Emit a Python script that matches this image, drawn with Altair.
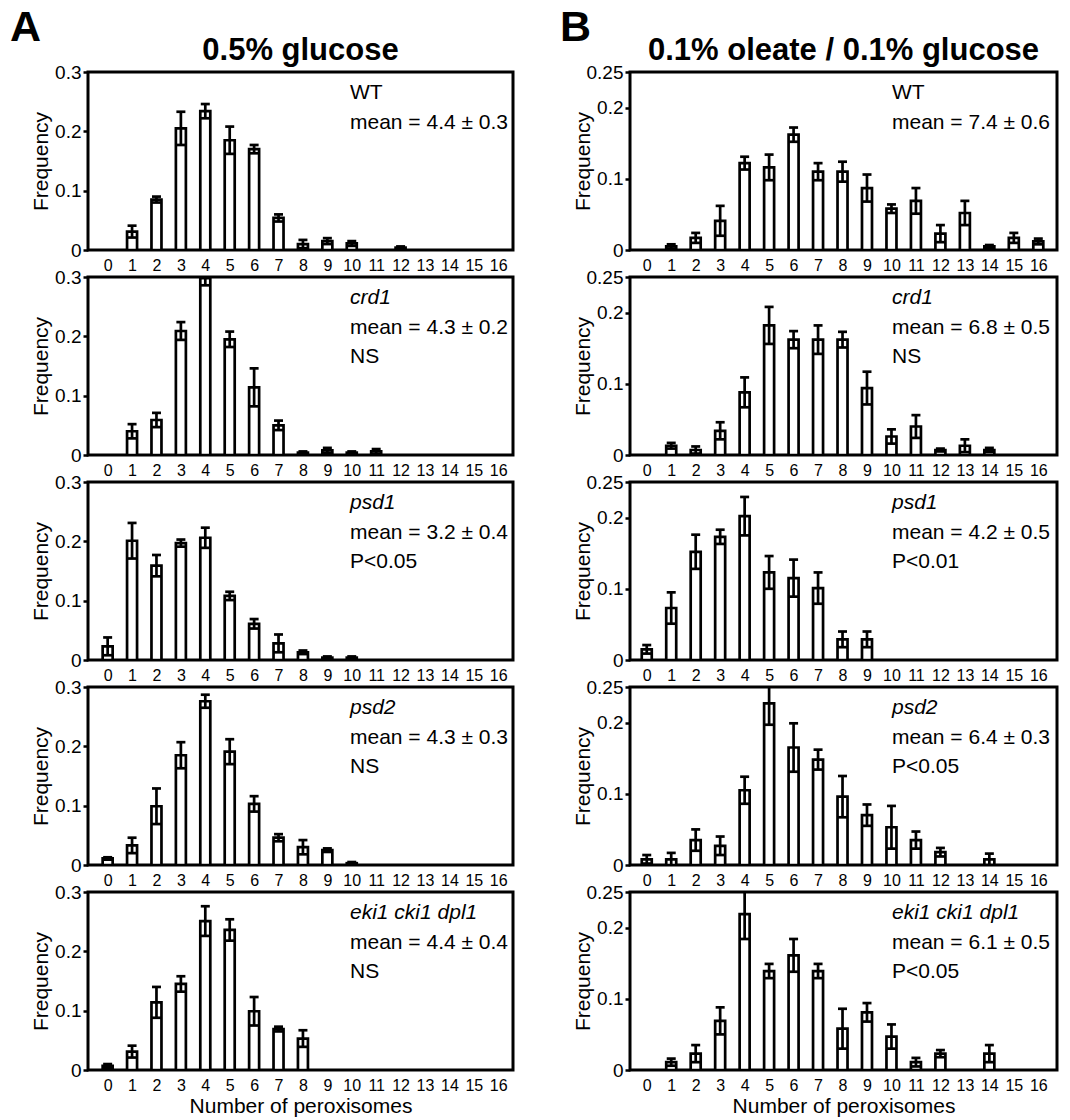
import altair as alt
import pandas as pd

counts = list(range(17))

# ---- A: 0.5% glucose ----
a_wt_f = [0, 0.031, 0.085, 0.205, 0.234, 0.185, 0.170, 0.054, 0.010, 0.015, 0.011, 0, 0.004, 0, 0, 0, 0]
a_wt_e = [0, 0.010, 0.005, 0.028, 0.012, 0.023, 0.007, 0.006, 0.007, 0.005, 0.004, 0, 0.002, 0, 0, 0, 0]
a_crd1_f = [0, 0.040, 0.059, 0.209, 0.298, 0.195, 0.114, 0.050, 0.004, 0.008, 0.004, 0.006, 0, 0, 0, 0, 0]
a_crd1_e = [0, 0.012, 0.012, 0.015, 0.012, 0.013, 0.032, 0.008, 0.002, 0.004, 0.002, 0.004, 0, 0, 0, 0, 0]
a_psd1_f = [0.023, 0.201, 0.159, 0.197, 0.206, 0.108, 0.061, 0.028, 0.013, 0.004, 0.004, 0, 0, 0, 0, 0, 0]
a_psd1_e = [0.015, 0.030, 0.018, 0.006, 0.017, 0.007, 0.008, 0.015, 0.003, 0.002, 0.002, 0, 0, 0, 0, 0, 0]
a_psd2_f = [0.011, 0.033, 0.099, 0.185, 0.276, 0.191, 0.103, 0.046, 0.030, 0.025, 0.003, 0, 0, 0, 0, 0, 0]
a_psd2_e = [0.002, 0.013, 0.030, 0.022, 0.011, 0.021, 0.013, 0.006, 0.012, 0.003, 0.002, 0, 0, 0, 0, 0, 0]
a_eki_f = [0.007, 0.031, 0.114, 0.145, 0.251, 0.236, 0.099, 0.069, 0.053, 0, 0, 0, 0, 0, 0, 0, 0]
a_eki_e = [0.003, 0.010, 0.026, 0.013, 0.025, 0.018, 0.024, 0.004, 0.014, 0, 0, 0, 0, 0, 0, 0, 0]

# ---- B: 0.1% oleate / 0.1% glucose ----
b_wt_f = [0, 0.005, 0.017, 0.041, 0.122, 0.116, 0.162, 0.110, 0.110, 0.087, 0.058, 0.069, 0.023, 0.052, 0.005, 0.017, 0.012]
b_wt_e = [0, 0.003, 0.007, 0.021, 0.009, 0.018, 0.010, 0.012, 0.014, 0.019, 0.006, 0.018, 0.012, 0.017, 0.002, 0.007, 0.004]
b_crd1_f = [0, 0.013, 0.007, 0.034, 0.088, 0.182, 0.162, 0.162, 0.162, 0.094, 0.026, 0.040, 0.007, 0.013, 0.007, 0, 0]
b_crd1_e = [0, 0.004, 0.005, 0.012, 0.021, 0.026, 0.012, 0.020, 0.011, 0.023, 0.010, 0.016, 0.002, 0.009, 0.003, 0, 0]
b_psd1_f = [0.015, 0.073, 0.152, 0.173, 0.202, 0.123, 0.115, 0.101, 0.029, 0.029, 0, 0, 0, 0, 0, 0, 0]
b_psd1_e = [0.006, 0.022, 0.024, 0.010, 0.027, 0.023, 0.026, 0.022, 0.011, 0.011, 0, 0, 0, 0, 0, 0, 0]
b_psd2_f = [0.008, 0.008, 0.035, 0.027, 0.105, 0.227, 0.165, 0.148, 0.096, 0.070, 0.053, 0.035, 0.018, 0, 0.008, 0, 0]
b_psd2_e = [0.006, 0.009, 0.015, 0.013, 0.019, 0.030, 0.034, 0.014, 0.029, 0.015, 0.030, 0.012, 0.006, 0, 0.008, 0, 0]
b_eki_f = [0, 0.011, 0.023, 0.069, 0.219, 0.139, 0.161, 0.139, 0.058, 0.081, 0.047, 0.011, 0.023, 0, 0.023, 0, 0]
b_eki_e = [0, 0.005, 0.012, 0.019, 0.035, 0.010, 0.023, 0.010, 0.028, 0.013, 0.017, 0.006, 0.005, 0, 0.012, 0, 0]

strain_names = ["WT", "crd1", "psd1", "psd2", "eki1 cki1 dpl1"]
a_means = ["mean = 4.4 ± 0.3", "mean = 4.3 ± 0.2", "mean = 3.2 ± 0.4", "mean = 4.3 ± 0.3", "mean = 4.4 ± 0.4"]
a_stats = ["", "NS", "P<0.05", "NS", "NS"]
b_means = ["mean = 7.4 ± 0.6", "mean = 6.8 ± 0.5", "mean = 4.2 ± 0.5", "mean = 6.4 ± 0.3", "mean = 6.1 ± 0.5"]
b_stats = ["", "NS", "P<0.01", "P<0.05", "P<0.05"]

a_freqs = [a_wt_f, a_crd1_f, a_psd1_f, a_psd2_f, a_eki_f]
a_errs = [a_wt_e, a_crd1_e, a_psd1_e, a_psd2_e, a_eki_e]
b_freqs = [b_wt_f, b_crd1_f, b_psd1_f, b_psd2_f, b_eki_f]
b_errs = [b_wt_e, b_crd1_e, b_psd1_e, b_psd2_e, b_eki_e]

a_title = "0.5% glucose"
b_title = "0.1% oleate / 0.1% glucose"
a_yticks = [0, 0.1, 0.2, 0.3]
b_yticks = [0, 0.1, 0.2, 0.25]

FONT = "Liberation Sans"
H = 178
LW = 2.7


def panel(freq, err, ymax, yticks, xdom, width, name, mean, stat,
          bottom=False, letter=None, letter_x=0, title=None):
    df = pd.DataFrame({"n": counts, "f": freq, "e": err})
    base = alt.Chart(df).transform_filter("datum.f > 0").transform_calculate(
        lo="datum.f - datum.e", hi="datum.f + datum.e")
    x = alt.X("n:Q",
              scale=alt.Scale(domain=xdom, nice=False, zero=False),
              axis=alt.Axis(values=counts, ticks=False, tickSize=0, domain=False, grid=False,
                            labelFontSize=16, labelFont=FONT,
                            labelPadding=7, labelFlush=False, labelOverlap=False, labelBound=False,
                            format="d", labelColor="black",
                            title="Number of peroxisomes" if bottom else None,
                            titleFontSize=21, titleFontWeight="normal", titleFont=FONT,
                            titlePadding=2, titleColor="black"))
    yscale = alt.Scale(domain=[0, ymax], nice=False, zero=True)
    yaxis = alt.Axis(values=yticks, format="~g", tickSize=5, tickWidth=2.5, tickColor="black",
                     domain=False, grid=False, labelFontSize=19, labelPadding=2,
                     labelColor="black", labelOverlap=False, labelFlush=False,
                     title="Frequency", titleFontSize=21, titleFontWeight="normal",
                     titleX=-47, titleY=H / 2, titleBaseline="middle", titleAlign="center",
                     titleAngle=270, titleColor="black")
    bars = base.mark_bar(size=10, fill="white", stroke="black", strokeWidth=LW, clip=True).encode(
        x=x, y=alt.Y("f:Q", scale=yscale, axis=yaxis))
    rules = base.mark_rule(strokeWidth=LW, color="black", clip=True).encode(
        x=x, y=alt.Y("lo:Q", scale=yscale, axis=yaxis), y2="hi:Q")
    caps_hi = base.mark_tick(orient="horizontal", size=9, thickness=2.7, color="black",
                             opacity=1, clip=True).encode(x=x, y=alt.Y("hi:Q", scale=yscale, axis=yaxis))
    caps_lo = base.mark_tick(orient="horizontal", size=9, thickness=2.7, color="black",
                             opacity=1, clip=True).encode(x=x, y=alt.Y("lo:Q", scale=yscale, axis=yaxis))
    one = pd.DataFrame({"k": [0]})
    tx = 262
    texts = [
        alt.Chart(one).mark_text(text=name, align="left", baseline="alphabetic", fontSize=21,
                                 font=FONT, fontStyle="normal" if name == "WT" else "italic",
                                 color="black").encode(x=alt.value(tx), y=alt.value(27)),
        alt.Chart(one).mark_text(text=mean, align="left", baseline="alphabetic", fontSize=21,
                                 font=FONT, color="black").encode(x=alt.value(tx), y=alt.value(57)),
    ]
    if stat:
        texts.append(alt.Chart(one).mark_text(text=stat, align="left", baseline="alphabetic",
                                              fontSize=21, font=FONT, color="black").encode(
            x=alt.value(tx), y=alt.value(86)))
    if title:
        texts.append(alt.Chart(one).mark_text(text=title, align="center", baseline="alphabetic",
                                              fontSize=31, fontWeight="bold", font=FONT,
                                              color="black").encode(
            x=alt.value(width / 2), y=alt.value(-12)))
    if letter:
        texts.append(alt.Chart(one).mark_text(text=letter, align="left", baseline="alphabetic",
                                              fontSize=43, fontWeight="bold", font=FONT,
                                              color="black").encode(
            x=alt.value(letter_x), y=alt.value(-31)))
    return alt.layer(bars, rules, caps_hi, caps_lo, *texts).properties(width=width, height=H)


panels = []
for i in range(5):
    panels.append(panel(a_freqs[i], a_errs[i], 0.3, a_yticks, [-0.6, 16.4], 425,
                        strain_names[i], a_means[i], a_stats[i], bottom=(i == 4),
                        letter="A" if i == 0 else None, letter_x=-78,
                        title=a_title if i == 0 else None))
    panels.append(panel(b_freqs[i], b_errs[i], 0.25, b_yticks, [-0.48, 16.56], 427,
                        strain_names[i], b_means[i], b_stats[i], bottom=(i == 4),
                        letter="B" if i == 0 else None, letter_x=-70,
                        title=b_title if i == 0 else None))

chart = alt.concat(
    *panels, columns=2, spacing={"row": 27, "column": 117}, bounds="flush",
).properties(
    autosize=alt.AutoSizeParams(type="pad"),
    padding={"left": 0, "top": -3, "right": 2, "bottom": 2},
).configure(font=FONT).configure_view(stroke="black", strokeWidth=3)

chart.save("out.html", embed_options={"renderer": "svg", "actions": False})
